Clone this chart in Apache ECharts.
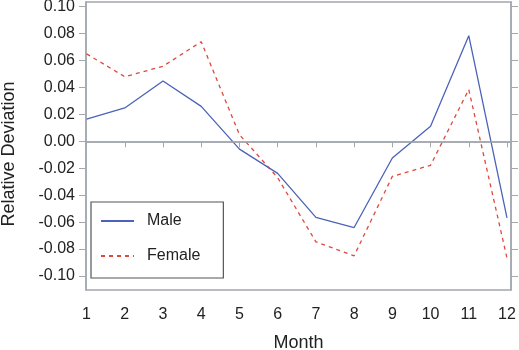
<!DOCTYPE html>
<html>
<head>
<meta charset="utf-8">
<script src="https://cdn.jsdelivr.net/npm/echarts@6/dist/echarts.min.js"></script>
<style>
  html, body { margin: 0; padding: 0; background: #fff; }
  #chart { width: 519px; height: 350px; }
</style>
</head>
<body>
<div id="chart"></div>
<script>
// 数据
const months = [1, 2, 3, 4, 5, 6, 7, 8, 9, 10, 11, 12]
const male = [0.0165, 0.0248, 0.0448, 0.026, -0.0058, -0.0238, -0.0565, -0.064, -0.0124, 0.0113, 0.0785, -0.0568]
const female = [0.065, 0.048, 0.0558, 0.074, 0.005, -0.027, -0.0746, -0.085, -0.026, -0.0178, 0.0385, -0.0867]
const yTicks = [-0.10, -0.08, -0.06, -0.04, -0.02, 0.00, 0.02, 0.04, 0.06, 0.08, 0.10]

const axisColor = '#a3a7ae'
const font = 'Liberation Sans, Arial, sans-serif'

const chart = echarts.init(document.getElementById('chart'))
const option = {
  animation: false,
  textStyle: { fontFamily: font },
  grid: {
    left: 86, right: 8, top: 2, bottom: 60,
    outerBoundsMode: 'none',
    containLabel: false,
    show: true, borderColor: axisColor, borderWidth: 1.5
  },
  // y轴标题
  graphic: [{
    type: 'text',
    x: 9, y: 154,
    rotation: Math.PI / 2,
    style: {
      text: 'Relative Deviation',
      fontSize: 18,
      fontFamily: font,
      fill: '#222',
      align: 'center',
      verticalAlign: 'middle'
    }
  }],
  legend: {
    orient: 'vertical',
    left: 91, top: 202,
    data: ['Male', 'Female'],
    borderColor: '#555',
    borderWidth: 1.2,
    padding: [11, 23, 14, 9],
    itemWidth: 33, itemHeight: 15, itemGap: 19,
    itemStyle: { opacity: 0 },
    textStyle: { fontSize: 16, color: '#222', fontFamily: font, padding: [0, 0, 0, 8] }
  },
  xAxis: {
    type: 'value',
    min: 0.985, max: 12.105,
    name: 'Month',
    nameLocation: 'middle',
    nameGap: 44,
    nameTextStyle: { fontSize: 18, color: '#222' },
    axisLine: { show: true, lineStyle: { color: axisColor, width: 1.5 } },
    axisTick: { show: true, length: 6, customValues: months, lineStyle: { color: axisColor } },
    axisLabel: { customValues: months, fontSize: 16, color: '#222', margin: 17 },
    splitLine: { show: false }
  },
  yAxis: [{
    type: 'value',
    min: -0.1104, max: 0.1035,
    axisLine: { show: true, lineStyle: { color: axisColor, width: 1.5 } },
    axisTick: { show: true, length: 7, customValues: yTicks, lineStyle: { color: axisColor } },
    axisLabel: {
      customValues: yTicks, fontSize: 16, color: '#222', margin: 11,
      formatter: (v) => v.toFixed(2)
    },
    splitLine: { show: false }
  }, {
    type: 'value',
    position: 'right',
    min: -0.1104, max: 0.1035,
    axisLine: { show: true, lineStyle: { color: axisColor, width: 1.5 } },
    axisTick: { show: true, length: 7, customValues: yTicks, lineStyle: { color: axisColor } },
    axisLabel: { show: false },
    splitLine: { show: false }
  }],
  series: [{
    name: 'Male',
    type: 'line',
    data: months.map((m, i) => [m, male[i]]),
    symbol: 'none',
    lineStyle: { color: '#4b63b8', width: 1.3 },
    itemStyle: { color: '#4b63b8' },
    markLine: {
      silent: true,
      symbol: 'none',
      label: { show: false },
      lineStyle: { color: axisColor, type: 'solid', width: 1.5 },
      data: [{ yAxis: 0 }]
    },
    z: 3
  }, {
    name: 'Female',
    type: 'line',
    data: months.map((m, i) => [m, female[i]]),
    symbol: 'none',
    lineStyle: { color: '#dc4a3c', width: 1.3, type: [4, 4] },
    itemStyle: { color: '#dc4a3c' },
    z: 2
  }]
}
chart.setOption(option)
</script>
</body>
</html>
